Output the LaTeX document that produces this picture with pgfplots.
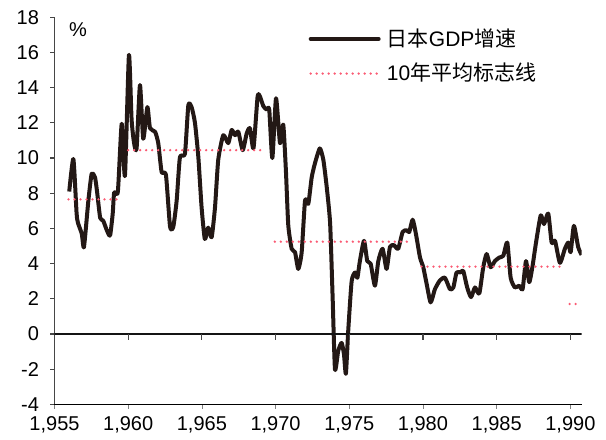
\documentclass[border=0pt]{standalone}
\usepackage{fontspec}
\setmainfont{Liberation Sans}
\newfontfamily\cjk{Noto Sans CJK SC}
\usepackage{pgfplots}
\pgfplotsset{compat=1.18}
\definecolor{gdpline}{RGB}{35,24,21}
\definecolor{avgpink}{RGB}{250,90,115}
\definecolor{axisclr}{RGB}{70,70,70}
\definecolor{zeroclr}{RGB}{20,20,20}
\begin{document}
\begin{tikzpicture}
\begin{axis}[
  scale only axis, width=263.6pt, height=193.6pt,
  xmin=1955, xmax=1990.77, ymin=-4, ymax=18,
  axis y line*=left, axis x line*=none,
  y axis line style={axisclr, line width=0.6pt},
  ytick={-4,-2,...,18},
  ytick style={axisclr, line width=0.6pt},
  major tick length=2.25pt, tick align=outside,
  ticklabel style={font=\fontsize{10}{12}\selectfont},
  y tick label style={xshift=-2pt},
  /pgf/number format/assume math mode=true,
  legend style={draw=none, fill=none, at={(rel axis cs:0.47,0.99)}, anchor=north west,
    font=\fontsize{10.5}{12}\selectfont, row sep=4pt, nodes={inner sep=1.5pt}},
  legend cell align=left,
]
\addplot[gdpline, line width=2pt, smooth, tension=0.35, line join=round,
  legend image code/.code={\draw[gdpline, line width=2pt, line cap=round] (0,0) -- (34pt,0);}]
  coordinates {
(1956.0,8.1) (1956.28,9.95) (1956.5,6.85) (1956.6,6.3) (1956.85,5.7) (1957.0,4.95)
(1957.3,7.6) (1957.52,9.1) (1957.75,8.9) (1957.9,8.0) (1958.1,6.6) (1958.3,6.45)
(1958.55,5.9) (1958.77,5.6) (1958.95,6.85) (1959.05,8.05) (1959.3,8.1) (1959.56,11.95)
(1959.78,9.0) (1960.05,15.85) (1960.23,12.2) (1960.4,10.85) (1960.57,10.55) (1960.8,14.15)
(1961.02,11.1) (1961.3,12.9) (1961.48,11.7) (1961.82,11.5) (1962.04,10.85) (1962.27,9.2)
(1962.56,9.05) (1962.84,6.1) (1963.06,6.1) (1963.29,7.6) (1963.51,10.05) (1963.85,10.25)
(1964.08,13.0) (1964.3,12.9) (1964.53,12.0) (1964.76,10.05) (1964.98,7.2) (1965.2,5.4)
(1965.43,6.05) (1965.66,5.5) (1965.89,7.2) (1966.11,9.9) (1966.45,11.3) (1966.79,10.85)
(1967.02,11.6) (1967.25,11.3) (1967.47,11.5) (1967.77,10.45) (1968.04,11.4) (1968.26,11.7)
(1968.5,10.55) (1968.78,13.5) (1968.94,13.5) (1969.17,12.95) (1969.4,12.75) (1969.57,12.75)
(1969.78,10.0) (1970.03,13.4) (1970.3,10.85) (1970.52,11.9) (1970.7,9.3) (1970.86,6.2)
(1971.09,4.85) (1971.32,4.65) (1971.54,3.7) (1971.77,4.65) (1972.0,7.6) (1972.22,7.4)
(1972.45,8.9) (1972.67,9.7) (1973.0,10.55) (1973.24,9.9) (1973.47,8.35) (1973.7,6.3)
(1973.87,2.1) (1974.03,-2.0) (1974.25,-0.95) (1974.48,-0.5) (1974.64,-1.15) (1974.77,-2.25)
(1974.93,0.2) (1975.16,3.0) (1975.39,3.5) (1975.55,3.2) (1975.72,4.15) (1976.0,5.3)
(1976.22,4.15) (1976.45,4.0) (1976.74,2.75) (1976.97,4.15) (1977.26,4.85) (1977.53,3.7)
(1977.76,4.95) (1978.03,5.05) (1978.32,4.85) (1978.62,5.8) (1978.89,5.9) (1979.07,5.8)
(1979.3,6.5) (1979.52,5.7) (1979.8,4.35) (1980.02,3.8) (1980.25,2.85) (1980.52,1.8)
(1980.81,2.55) (1981.15,3.05) (1981.49,3.2) (1981.83,2.55) (1982.06,2.65) (1982.28,3.5)
(1982.55,3.5) (1982.73,3.6) (1983.0,2.65) (1983.26,2.1) (1983.53,2.65) (1983.82,2.3)
(1984.09,3.8) (1984.32,4.55) (1984.59,3.8) (1984.88,4.15) (1985.18,4.35) (1985.45,4.45)
(1985.72,5.2) (1985.95,3.2) (1986.24,2.65) (1986.53,2.75) (1986.76,2.55) (1986.99,4.15)
(1987.21,2.95) (1987.44,3.9) (1987.67,5.2) (1987.99,6.75) (1988.21,6.25) (1988.5,6.85)
(1988.73,5.2) (1988.96,5.3) (1989.29,4.05) (1989.63,4.85) (1989.86,5.2) (1990.02,4.65)
(1990.24,6.15) (1990.53,4.95) (1990.76,4.5)
  };
\addlegendentry{{\cjk 日本}GDP{\cjk 增速}}
% 10-year averages
\pgfplotsset{avg/.style={avgpink, line width=1.3pt, line cap=round, dash pattern=on 0pt off 3pt}}
\addplot[avg, legend image code/.code={\draw[avgpink, line width=1.3pt, line cap=round, dash pattern=on 0pt off 3pt] (0,0) -- (34pt,0); \path (36pt,0);}]
  coordinates {(1955.95,7.65) (1959.45,7.65)};
\addlegendentry{10{\cjk 年平均标志线}}
\addplot[avg, forget plot] coordinates {(1960.0,10.45) (1969.25,10.45)};
\addplot[avg, forget plot] coordinates {(1969.95,5.25) (1979.3,5.25)};
\addplot[avg, forget plot] coordinates {(1979.9,3.83) (1989.65,3.83)};
\addplot[avg, forget plot] coordinates {(1989.95,1.71) (1990.76,1.71)};
% zero line and its ticks
\addplot[zeroclr, line width=0.6pt, forget plot] coordinates {(1955,0) (1990.77,0)};
\addplot[axisclr, line width=0.6pt, ycomb, forget plot] coordinates {(1960,-0.34) (1965,-0.34) (1970,-0.34) (1975,-0.34) (1980,-0.34) (1985,-0.34) (1990,-0.34)};
% year labels under the plot
\pgfplotsinvokeforeach{1955,1960,...,1990}{\node[font=\fontsize{10}{12}\selectfont, yshift=-10.25pt] at (axis cs:#1,-4) {#1};}
\node[font=\fontsize{10}{12}\selectfont] at (axis cs:1956.6,17.3) {\%};
\end{axis}
\path ([xshift=-27.25pt,yshift=-16.25pt]current axis.south west) rectangle ([xshift=12.15pt,yshift=8.65pt]current axis.north east);
\end{tikzpicture}
\end{document}
